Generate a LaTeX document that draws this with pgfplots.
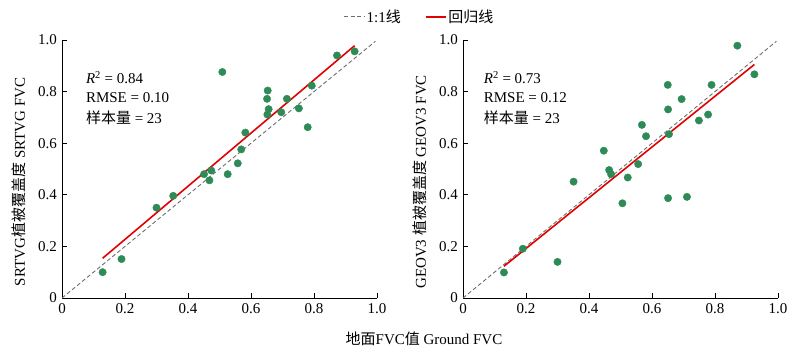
\documentclass[border=0pt]{standalone}
\usepackage{pgfplots}
\pgfplotsset{compat=1.18}
\usepackage{pgfplotstable}
\usepackage{fontspec}
\setmainfont{Liberation Serif}
\newfontfamily\cjk{Noto Sans CJK SC}
\definecolor{ptgreen}{RGB}{46,139,87}
\definecolor{lred}{RGB}{226,0,0}
\definecolor{dgray}{RGB}{110,110,110}

\pgfplotstableread{
x y
0.129 0.100
0.189 0.151
0.300 0.350
0.353 0.396
0.451 0.480
0.474 0.494
0.468 0.456
0.509 0.876
0.526 0.480
0.558 0.522
0.569 0.576
0.582 0.641
0.653 0.804
0.651 0.772
0.656 0.732
0.652 0.711
0.696 0.720
0.714 0.772
0.752 0.735
0.780 0.662
0.793 0.823
0.873 0.940
0.929 0.956
}\leftdata

\pgfplotstableread{
x y
0.130 0.099
0.190 0.191
0.300 0.140
0.351 0.451
0.447 0.571
0.464 0.496
0.470 0.480
0.506 0.367
0.523 0.467
0.556 0.519
0.568 0.671
0.581 0.627
0.650 0.826
0.651 0.731
0.654 0.635
0.651 0.387
0.694 0.771
0.711 0.392
0.749 0.688
0.778 0.711
0.789 0.826
0.871 0.978
0.925 0.867
}\rightdata

\begin{document}
\begin{tikzpicture}[x=1pt,y=1pt]
\path[use as bounding box] (0,0) rectangle (800,355);
\pgfplotsset{
  myax/.style={
    scale only axis, width=315pt, height=258pt,
    xmin=0, xmax=1, ymin=0, ymax=1,
    axis x line=bottom, axis y line=left,
    axis line style={-, line width=0.7pt, black},
    tick align=inside, major tick length=5pt,
    tick style={line width=0.7pt, black},
    xtick={0,0.2,0.4,0.6,0.8,1.0}, ytick={0,0.2,0.4,0.6,0.8,1.0},
    xticklabels={0,0.2,0.4,0.6,0.8,1.0}, yticklabels={0,0.2,0.4,0.6,0.8,1.0},
    tick label style={font=\fontsize{15}{17}\selectfont},
    every tick label/.append style={inner sep=1pt},
    xticklabel style={yshift=-4pt},
    yticklabel style={xshift=-4pt},
    label style={font=\fontsize{15}{17}\selectfont},
    ylabel style={at={(axis description cs:-0.136,0.45)}, anchor=center, rotate=0},
    clip=false,
  },
}
\begin{axis}[myax, at={(62pt,57pt)}, anchor=origin,
  ylabel={SRTVG{\cjk 植被覆盖度} SRTVG FVC},
  legend columns=2,
  legend style={draw=none, fill=none, font=\fontsize{15}{17}\selectfont,
    at={(axis description cs:1.135,1.09)}, anchor=center,
    /tikz/every even column/.append style={column sep=22pt}},
  legend image code/.code={\draw[#1] (0pt,0pt) -- (20pt,0pt);},
]
\addplot[dgray, line width=0.9pt, dash pattern=on 4pt off 2.5pt] coordinates {(0,0) (0.995,0.995)};
\addlegendentry{1:1{\cjk 线}}
\addplot[lred, line width=1.6pt] coordinates {(0.129,0.154) (0.929,0.978)};
\addlegendentry{{\cjk 回归线}}
\addplot[only marks, mark=*, mark size=3.7pt, mark options={ptgreen, fill=ptgreen}, forget plot] table[x=x,y=y] {\leftdata};
\node[anchor=west, font=\fontsize{15}{17}\selectfont] at (axis description cs:0.065,0.853) {\textit{R}\textsuperscript{2} = 0.84};
\node[anchor=west, font=\fontsize{15}{17}\selectfont] at (axis description cs:0.065,0.775) {RMSE = 0.10};
\node[anchor=west, font=\fontsize{15}{17}\selectfont] at (axis description cs:0.065,0.697) {{\cjk 样本量} = 23};
\end{axis}

\begin{axis}[myax, at={(463pt,57pt)}, anchor=origin,
  ylabel={GEOV3 {\cjk 植被覆盖度} GEOV3 FVC},
]
\addplot[dgray, line width=0.9pt, dash pattern=on 4pt off 2.5pt] coordinates {(0,0) (0.995,0.995)};
\addplot[lred, line width=1.6pt] coordinates {(0.130,0.123) (0.925,0.905)};
\addplot[only marks, mark=*, mark size=3.7pt, mark options={ptgreen, fill=ptgreen}] table[x=x,y=y] {\rightdata};
\node[anchor=west, font=\fontsize{15}{17}\selectfont] at (axis description cs:0.055,0.853) {\textit{R}\textsuperscript{2} = 0.73};
\node[anchor=west, font=\fontsize{15}{17}\selectfont] at (axis description cs:0.055,0.775) {RMSE = 0.12};
\node[anchor=west, font=\fontsize{15}{17}\selectfont] at (axis description cs:0.055,0.697) {{\cjk 样本量} = 23};
\end{axis}

\node[font=\fontsize{15}{17}\selectfont] at (424,16) {{\cjk 地面}FVC{\cjk 值} Ground FVC};
\end{tikzpicture}
\end{document}
